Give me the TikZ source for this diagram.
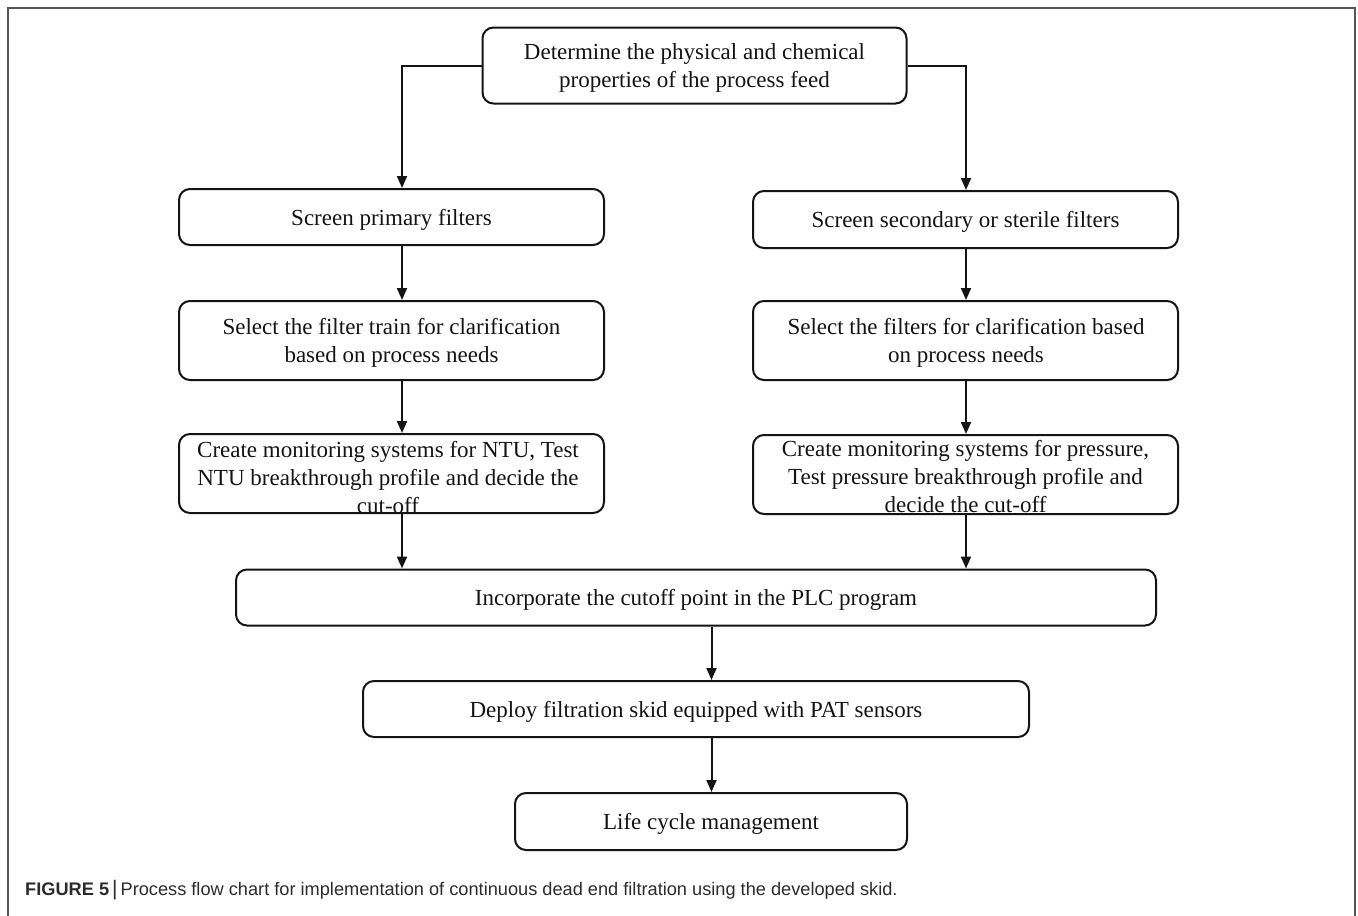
\documentclass[tikz,border=0pt]{standalone}
\usepackage{fontspec}
\setmainfont{Liberation Serif}
\newfontfamily\capfont{Liberation Sans}
\usetikzlibrary{arrows.meta,calc}
\definecolor{ink}{HTML}{141414}
\definecolor{framec}{HTML}{555555}
\begin{document}
\begin{tikzpicture}[x=1pt,y=-1pt,
  box/.style={draw=ink,line width=2pt,rounded corners=11pt,inner sep=0pt,fill=none},
  txt/.style={align=center,text=ink,font=\fontsize{23}{28}\selectfont,inner sep=0pt},
  arr/.style={draw=ink,line width=2pt,-{Triangle[width=10pt,length=12pt]}}]
\useasboundingbox (0,0) rectangle (1358,916);
\fill[white] (0,0) rectangle (1358,916);
\draw[framec,line width=2pt] (8,916) -- (8,8) -- (1355,8) -- (1355,916);
% boxes
\node[box,minimum width=424pt,minimum height=76pt] (top) at (694.5,65.5) {};
\node[box,minimum width=425pt,minimum height=56pt] (p1) at (391.5,217) {};
\node[box,minimum width=425pt,minimum height=79pt] (p2) at (391.5,340.5) {};
\node[box,minimum width=425pt,minimum height=79pt] (p3) at (391.5,473.5) {};
\node[box,minimum width=425pt,minimum height=57pt] (s1) at (965.5,219.5) {};
\node[box,minimum width=425pt,minimum height=79pt] (s2) at (965.5,340.5) {};
\node[box,minimum width=425pt,minimum height=79pt] (s3) at (965.5,474.5) {};
\node[box,minimum width=920pt,minimum height=56pt] (inc) at (696,597.5) {};
\node[box,minimum width=666pt,minimum height=56pt] (dep) at (696,709) {};
\node[box,minimum width=392pt,minimum height=57pt] (life) at (711,821.5) {};
% texts
\node[txt] (ttop) at (694.5,68) {Determine the physical and chemical\\properties of the process feed};
\node[txt] (tp1) at (391.5,220) {Screen primary filters};
\node[txt] (tp2) at (391.5,343) {Select the filter train for clarification\\based on process needs};
\node[txt] (tp3) at (388,478) {Create monitoring systems for NTU, Test\\NTU breakthrough profile and decide the\\cut-off};
\node[txt] (ts1) at (965.5,222) {Screen secondary or sterile filters};
\node[txt] (ts2) at (966,343) {Select the filters for clarification based\\on process needs};
\node[txt] (ts3) at (965.5,477) {Create monitoring systems for pressure,\\Test pressure breakthrough profile and\\decide the cut-off};
\node[txt] (tinc) at (696,600) {Incorporate the cutoff point in the PLC program};
\node[txt] (tdep) at (696,712) {Deploy filtration skid equipped with PAT sensors};
\node[txt] (tlife) at (711,824) {Life cycle management};
% connector columns
\coordinate (cl) at (402,0);
\coordinate (cr) at (966,0);
\coordinate (cm) at (711.5,0);
\draw[arr] (top.west) -| (cl |- p1.north);
\draw[arr] (top.east) -| (cr |- s1.north);
\draw[arr] (cl |- p1.south) -- (cl |- p2.north);
\draw[arr] (cl |- p2.south) -- (cl |- p3.north);
\draw[arr] (cl |- p3.south) -- (cl |- inc.north);
\draw[arr] (cr |- s1.south) -- (cr |- s2.north);
\draw[arr] (cr |- s2.south) -- (cr |- s3.north);
\draw[arr] (cr |- s3.south) -- (cr |- inc.north);
\draw[arr] (cm |- inc.south) -- (cm |- dep.north);
\draw[arr] (cm |- dep.south) -- (cm |- life.north);
% caption
\node[anchor=base west,inner sep=0pt,text=ink!90,font=\capfont\fontsize{18.2}{20}\selectfont] (cap) at (25,895)
  {\textbf{FIGURE 5}\,{\fontsize{21}{20}\selectfont|}\,Process flow chart for implementation of continuous dead end filtration using the developed skid.};
\end{tikzpicture}
\end{document}
